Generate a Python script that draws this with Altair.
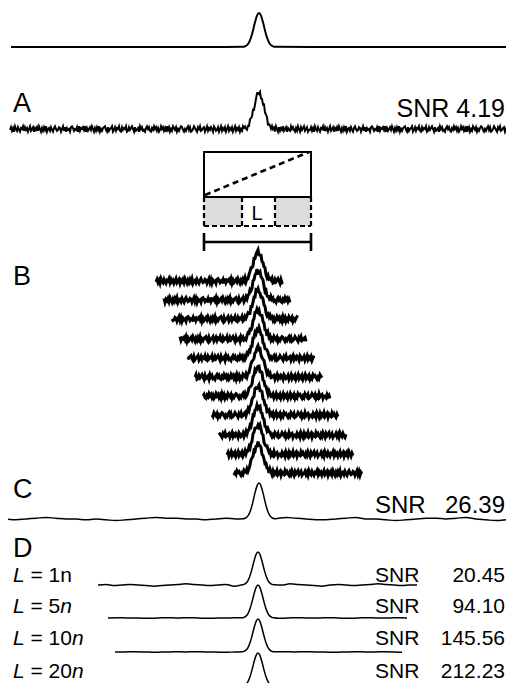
import altair as alt
import pandas as pd

W, H = 498, 675          # drawing area (page pixels 8..506, 8..683)
X0, Y0 = 8, 8

# ---------------- data ----------------
# relative peak profile at offsets -16..16 px (step 1) from the peak centre
PEAK = [0.006, 0.011, 0.020, 0.034, 0.056, 0.089, 0.135, 0.198, 0.278, 0.375, 0.487,
        0.607, 0.726, 0.835, 0.92, 0.98, 1.0, 0.98, 0.92, 0.835, 0.726, 0.607, 0.487,
        0.375, 0.278, 0.198, 0.135, 0.089, 0.056, 0.034, 0.020, 0.011, 0.006]

# noise digits (value - 3), one per px
NOISE_A = ("41526035146230514263" "05316241503625140632" "51462035412630516243"
           "61025341605231406253" "14036251406352104615" "32064152305614230651"
           "42036154260315462031" "56240315264031526041" "63502416352014635204"
           "16530246130542163052" "41360254163052416305" "24163052416350214635"
           "02416530241635042163" "35142603615240531624" "50314625036142053164")
# slow wiggles (value - 2)
NOISE_C = "2321012232343210112232124321012332102234321121023432"
NOISE_D1 = "2132123432101232143212320123421232101232"
NOISE_D2 = "212232121232212123212212321221"
NOISE_D3 = "221232121223212321212232122123"

# stacked traces of panel B
B_START = [156, 164, 172, 180, 188, 195, 203, 212, 219, 227, 234]
B_END = [283, 290, 298, 306, 314, 322, 330, 338, 346, 353, 362]
B_BASE = [281, 300, 319, 339, 358, 377, 396, 415, 435, 454, 473]

# ---------------- build traces ----------------
rows = []


def add(name, style, pts):
    for i, (x, y) in enumerate(sorted(pts)):
        rows.append(dict(trace=name, style=style, x=x, y=y, o=i))


def noisy(name, style, x0, x1, base, height, center, noise, scale, offset):
    pts = []
    for j, x in enumerate(range(x0, x1 + 1)):
        n = (int(noise[(offset + j) % len(noise)]) - 3) * scale
        k = x - center
        p = PEAK[k + 16] if -16 <= k <= 16 else 0.0
        pts.append((x, base + n - height * p))
    add(name, style, pts)


def smooth(name, style, x0, x1, base, height, center, noise, scale, step):
    pts = []
    xs = list(range(x0, x1 + 1, step))
    if xs[-1] != x1:
        xs.append(x1)
    for j, x in enumerate(xs):
        if abs(x - center) > 18:
            n = (int(noise[j % len(noise)]) - 2) * scale
            pts.append((x, base + n))
    for i in range(0, len(PEAK), 2):
        pts.append((center + i - 16, base - height * PEAK[i]))
    add(name, style, pts)


# top clean trace
smooth("top", "clean", 11, 513, 47, 34, 259, "2", 0, 60)
# panel A
noisy("A", "A", 10, 513, 129, 36, 259, NOISE_A, 0.9, 0)
# panel B
for t in range(len(B_BASE)):
    noisy("B%d" % t, "B", B_START[t], B_END[t], B_BASE[t], 29, 258, NOISE_A, 0.8, 23 * t)
# panel C
smooth("C", "smooth", 6, 513, 519, 36, 259, NOISE_C, 0.8, 10)
# panel D
smooth("D1", "smooth", 98, 417, 585, 33, 258, NOISE_D1, 0.6, 8)
smooth("D2", "smooth", 108, 407, 618, 33, 258, NOISE_D2, 0.35, 10)
smooth("D3", "smooth", 115, 402, 652, 33, 258, NOISE_D3, 0.3, 10)
smooth("D4", "smooth", 200, 320, 686, 33, 258, "2", 0, 60)

traces = pd.DataFrame(rows)

XS = alt.Scale(domain=[X0, X0 + W], nice=False, zero=False)
YS = alt.Scale(domain=[Y0, Y0 + H], nice=False, zero=False, reverse=True)


def line_layer(style, width, interp):
    return alt.Chart(traces).transform_filter(alt.datum.style == style).mark_line(
        color="black", strokeWidth=width, interpolate=interp, clip=True
    ).encode(
        x=alt.X("x:Q", scale=XS, axis=None),
        y=alt.Y("y:Q", scale=YS, axis=None),
        detail="trace:N",
        order="o:Q",
    )


lines = [
    line_layer("clean", 2.0, "monotone"),
    line_layer("A", 2.0, "linear"),
    line_layer("B", 3.0, "linear"),
    line_layer("smooth", 1.5, "monotone"),
]

# ---------------- schematic box ----------------
box_top = pd.DataFrame({"x": [204], "x2": [311], "y": [152], "y2": [197]})
box_gray = pd.DataFrame({"x": [204, 275], "x2": [242, 311], "y": [197, 197], "y2": [226, 226]})
dash_rules = pd.DataFrame({
    "x": [204, 311, 204, 242, 275],
    "x2": [204, 311, 311, 242, 275],
    "y": [197, 197, 226, 197, 197],
    "y2": [226, 226, 226, 226, 226],
})
diag = pd.DataFrame({"x": [205], "x2": [309], "y": [195], "y2": [152]})
bar = pd.DataFrame({
    "x": [204, 204, 311],
    "x2": [311, 204, 311],
    "y": [242, 233, 233],
    "y2": [242, 251, 251],
})


def enc4():
    return dict(
        x=alt.X("x:Q", scale=XS, axis=None),
        x2="x2:Q",
        y=alt.Y("y:Q", scale=YS, axis=None),
        y2="y2:Q",
    )


shapes = [
    alt.Chart(box_gray).mark_rect(fill="#dcdcdc").encode(**enc4()),
    alt.Chart(box_top).mark_rect(fill="white", stroke="black", strokeWidth=2).encode(**enc4()),
    alt.Chart(dash_rules).mark_rule(color="black", strokeWidth=2.2, strokeDash=[5, 3]).encode(**enc4()),
    alt.Chart(diag).mark_rule(color="black", strokeWidth=2.6, strokeDash=[6, 4]).encode(**enc4()),
    alt.Chart(bar).mark_rule(color="black", strokeWidth=2.6).encode(**enc4()),
]

# ---------------- texts ----------------
FONT = "Liberation Sans"
left_txt = pd.DataFrame({
    "x": [13, 13, 13, 13, 375, 375, 375, 375, 375, 30.5, 30.5, 30.5, 30.5],
    "y": [112, 285, 498, 557, 513, 582, 613, 645, 678, 582, 613, 645, 678],
    "t": ["A", "B", "C", "D", "SNR", "SNR", "SNR", "SNR", "SNR",
          "= 1n", "= 5", "= 10", "= 20"],
    "s": [27, 27, 27, 27, 24, 21, 21, 21, 21, 21, 21, 21, 21],
})
center_txt = pd.DataFrame({"x": [257], "y": [220], "t": ["L"], "s": [20]})
right_txt = pd.DataFrame({
    "x": [505, 505, 505, 505, 505, 505],
    "y": [117, 513, 582, 613, 645, 678],
    "t": ["SNR 4.19", "26.39", "20.45", "94.10", "145.56", "212.23"],
    "s": [25, 24, 21, 21, 21, 21],
})
ital_txt = pd.DataFrame({
    "x": [13, 13, 13, 13, 60.3, 72, 72],
    "y": [582, 613, 645, 678, 613, 645, 678],
    "t": ["L", "L", "L", "L", "n", "n", "n"],
    "s": [21, 21, 21, 21, 21, 21, 21],
})


def text_layer(df, align, style="normal"):
    return alt.Chart(df).mark_text(
        align=align, baseline="alphabetic", font=FONT, color="black",
        fontStyle=style,
    ).encode(
        x=alt.X("x:Q", scale=XS, axis=None),
        y=alt.Y("y:Q", scale=YS, axis=None),
        text="t:N",
        size=alt.Size("s:Q", scale=None, legend=None),
    )


texts = [
    text_layer(left_txt, "left"),
    text_layer(center_txt, "center"),
    text_layer(right_txt, "right"),
    text_layer(ital_txt, "left", "italic"),
]

chart = alt.layer(*lines, *shapes, *texts).properties(
    width=W, height=H, padding=0,
    autosize=alt.AutoSizeParams(type="none"),
    background="white",
).configure_view(stroke=None)

chart.save("out.html", embed_options={"renderer": "svg", "actions": False})
